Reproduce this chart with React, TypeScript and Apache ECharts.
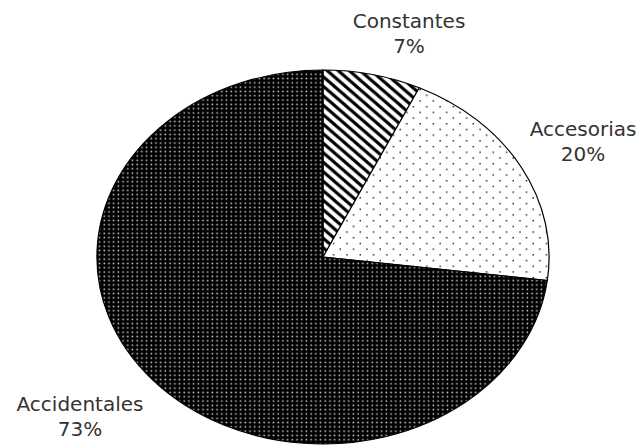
import React, { useEffect, useRef } from 'react';
import * as echarts from 'echarts';

// Distribution of error types (percent)
const categories = ['Constantes', 'Accesorias', 'Accidentales'];
const shares = [7, 20, 73];

// Centre of each two-line label, in px
const labelCenters: [number, number][] = [
  [409, 33],
  [583, 141],
  [80, 416],
];

const WIDTH = 643;
const HEIGHT = 445;

// Elliptical pie: centre and radii, in px
const CX = 323;
const CY = 257;
const RX = 226;
const RY = 187;

function svgTile(w: number, h: number, body: string): string {
  const svg = `<svg xmlns="http://www.w3.org/2000/svg" width="${w}" height="${h}" viewBox="0 0 ${w} ${h}">${body}</svg>`;
  return 'data:image/svg+xml;charset=utf-8,' + encodeURIComponent(svg);
}

function makePattern(w: number, h: number, body: string) {
  return {
    image: svgTile(w, h, body),
    imageWidth: w,
    imageHeight: h,
    repeat: 'repeat',
    // the sector is stretched horizontally; undo it for the fill texture
    scaleX: RY / RX,
  };
}

// Diagonal hatching "\\\\"
function hatchPattern() {
  const w = 11;
  const h = 9.5;
  const t = 3.1;
  let body = `<rect width="${w}" height="${h}" fill="#fff"/>`;
  for (const k of [-1, 0, 1]) {
    body += `<line x1="${(k - 1) * w}" y1="${-h}" x2="${(k + 2) * w}" y2="${2 * h}" stroke="#000" stroke-width="${t}"/>`;
  }
  return makePattern(w, h, body);
}

// Sparse black dots on white
function sparseDots() {
  const w = 13.3;
  const h = 11.4;
  const s = 1.4;
  const body =
    `<rect width="${w}" height="${h}" fill="#fff"/>` +
    `<rect x="${w / 4}" y="${h / 4}" width="${s}" height="${s}" fill="#111"/>` +
    `<rect x="${(3 * w) / 4}" y="${(3 * h) / 4}" width="${s}" height="${s}" fill="#111"/>`;
  return makePattern(w, h, body);
}

// Fine white dots on black
function denseDots() {
  const w = 4.7;
  const h = 4.3;
  const s = 1.5;
  const body =
    `<rect width="${w}" height="${h}" fill="#000"/>` +
    `<rect x="1.5" y="1.4" width="${s}" height="${s}" fill="#d8d8d8"/>`;
  return makePattern(w, h, body);
}

const fills = [hatchPattern(), sparseDots(), denseDots()];

export default function App() {
  const ref = useRef<HTMLDivElement>(null);

  useEffect(() => {
    if (!ref.current) return;
    const chart = echarts.init(ref.current, undefined, { renderer: 'svg' });
    const total = shares.reduce((a, b) => a + b, 0);

    chart.setOption({
      animation: false,
      backgroundColor: '#ffffff',
      series: [
        {
          type: 'custom',
          coordinateSystem: 'none',
          data: categories.map((name, i) => ({ name, value: shares[i] })),
          renderItem: (params: any, api: any) => {
            const i = params.dataIndex;
            const value = api.value(0) as number;
            const before = shares.slice(0, i).reduce((a, b) => a + b, 0);
            const start = -Math.PI / 2 + (2 * Math.PI * before) / total;
            const end = start + (2 * Math.PI * value) / total;
            const [lx, ly] = labelCenters[i];
            return {
              type: 'group',
              children: [
                {
                  type: 'sector',
                  x: CX,
                  y: CY,
                  scaleX: RX / RY,
                  shape: {
                    cx: 0,
                    cy: 0,
                    r0: 0,
                    r: RY,
                    startAngle: start,
                    endAngle: end,
                    clockwise: true,
                  },
                  style: {
                    fill: fills[i],
                    stroke: '#000',
                    lineWidth: 1,
                    strokeNoScale: true,
                  },
                },
                {
                  type: 'text',
                  x: lx,
                  y: ly,
                  style: {
                    text: `${categories[i]}\n${value}%`,
                    font: '20px "DejaVu Sans", sans-serif',
                    fill: '#333333',
                    align: 'center',
                    verticalAlign: 'middle',
                    lineHeight: 25,
                  },
                },
              ],
            };
          },
        },
      ],
    });

    return () => chart.dispose();
  }, []);

  return (
    <div
      ref={ref}
      style={{ position: 'absolute', left: 0, top: 0, width: WIDTH, height: HEIGHT }}
    />
  );
}
